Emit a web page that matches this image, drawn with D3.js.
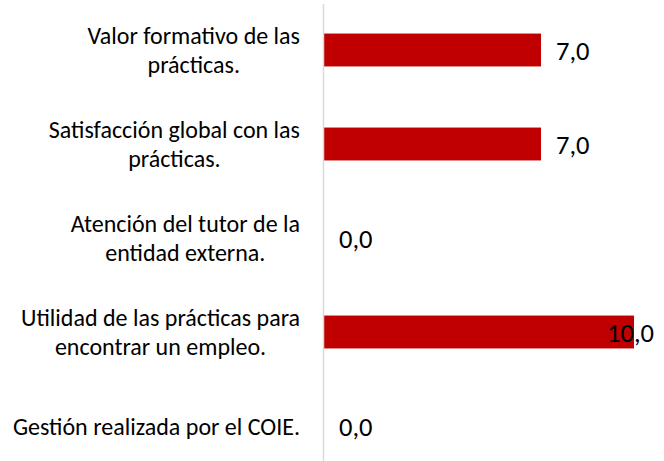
<!DOCTYPE html>
<html><head><meta charset="utf-8">
<script src="https://cdn.jsdelivr.net/npm/d3@7"></script>
<style>body{margin:0;background:#fff}svg{display:block}</style>
</head><body>
<script>
const categories = [
  ["Valor formativo de las", "prácticas."],
  ["Satisfacción global con las", "prácticas."],
  ["Atención del tutor de la", "entidad externa."],
  ["Utilidad de las prácticas para", "encontrar un empleo."],
  ["Gestión realizada por el COIE."]
];
const values = [7.0, 7.0, 0.0, 10.0, 0.0];
const valueLabels = ["7,0", "7,0", "0,0", "10,0", "0,0"];

const W = 664, H = 461;
const font = "Carlito, Lato, 'Liberation Sans', sans-serif";
const svg = d3.select("body").append("svg").attr("width", W).attr("height", H);

const x = d3.scaleLinear().domain([0, 10]).range([324, 634]);
const idx = d3.range(categories.length);
const y = d3.scaleBand().domain(idx).range([3, 473]).paddingInner(0.65).paddingOuter(0.325);

svg.selectAll("rect.bar").data(idx).enter().append("rect")
  .attr("class", "bar")
  .attr("x", x(0))
  .attr("y", i => y(i))
  .attr("width", i => x(values[i]) - x(0))
  .attr("height", y.bandwidth())
  .attr("fill", "#C00000");

svg.append("line")
  .attr("x1", 323.5).attr("x2", 323.5).attr("y1", 4).attr("y2", H)
  .attr("stroke", "#d9d9d9").attr("stroke-width", 1.5);

// category labels
const catFS = 24, lineH = 29.5;
idx.forEach(i => {
  const lines = categories[i];
  const cy = y(i) + y.bandwidth() / 2;
  const g = svg.append("g");
  const texts = lines.map((t, k) => g.append("text")
    .attr("font-family", font).attr("font-size", catFS).attr("fill", "#000")
    .attr("text-anchor", "middle").attr("dominant-baseline", "central")
    .attr("y", cy + (k - (lines.length - 1) / 2) * lineH)
    .text(t));
  const maxW = d3.max(texts, t => t.node().getComputedTextLength());
  const cx = 300 - maxW / 2;
  texts.forEach(t => t.attr("x", cx));
});

// value labels
const valFS = 26.5;
idx.forEach(i => {
  const t = svg.append("text")
    .attr("font-family", font).attr("font-size", valFS).attr("fill", "#000")
    .attr("dominant-baseline", "central")
    .attr("y", y(i) + y.bandwidth() / 2 + 1)
    .text(valueLabels[i]);
  const w = t.node().getComputedTextLength();
  t.attr("x", Math.min(x(values[i]) + 15, 654 - w));
});
</script>
</body></html>
